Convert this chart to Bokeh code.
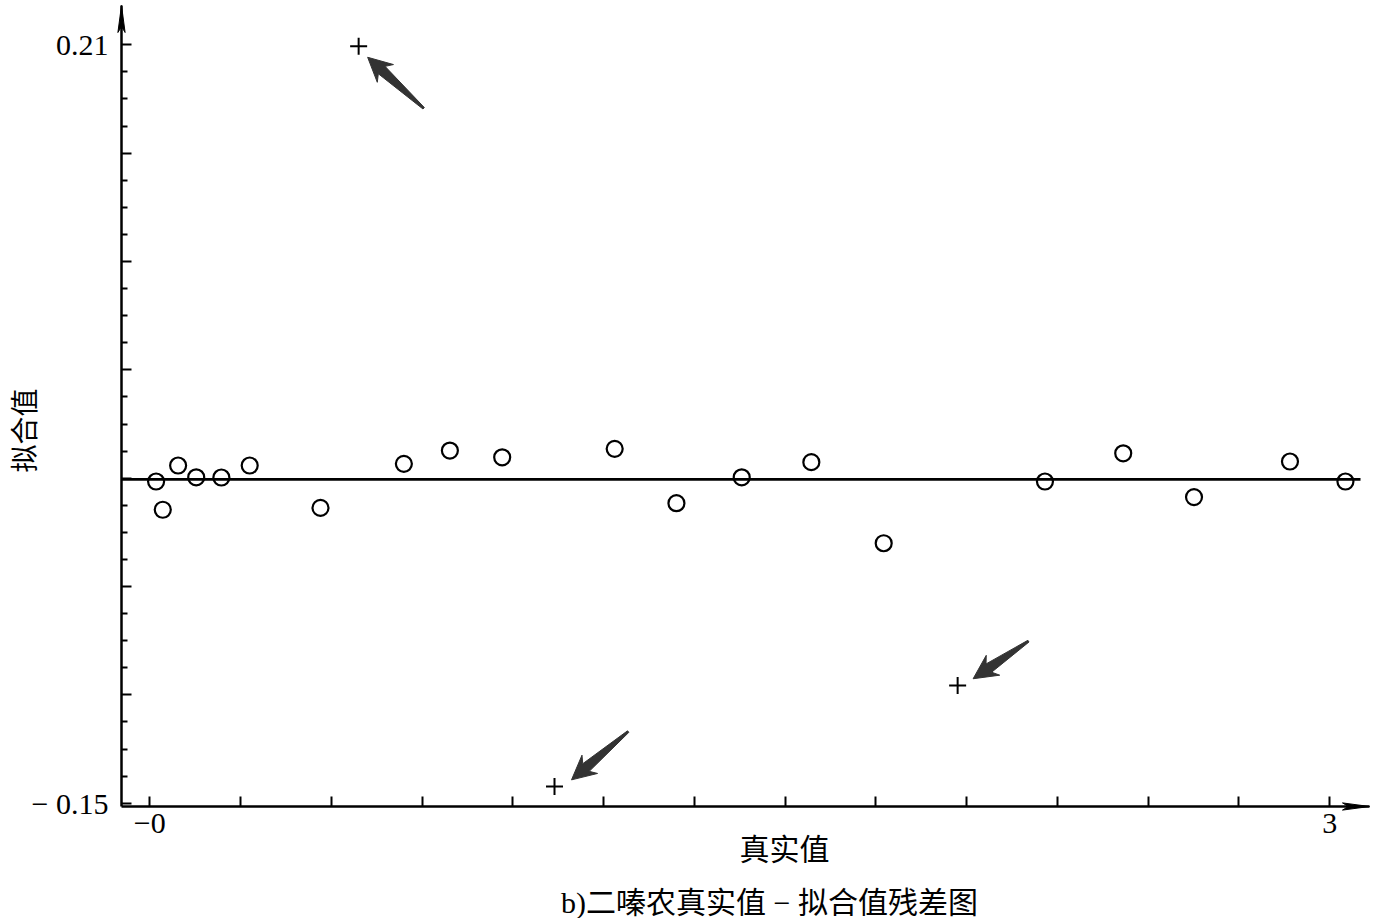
import math
from bokeh.plotting import figure
from bokeh.models import Range1d, FixedTicker, Label, LinearAxis
from bokeh.embed import file_html
from bokeh.resources import INLINE

# ---------------- data ----------------
x_true = [0.016, 0.033, 0.072, 0.118, 0.182, 0.254, 0.434, 0.646, 0.763, 0.896,
          1.182, 1.339, 1.505, 1.682, 1.866, 2.276, 2.475, 2.655, 2.899, 3.040]
residual = [0.0027, -0.0107, 0.0103, 0.0047, 0.0046, 0.0103, -0.0098, 0.0111, 0.0174, 0.0142,
            0.0182, -0.0076, 0.0047, 0.0119, -0.0266, 0.0027, 0.0161, -0.0047, 0.0122, 0.0027]
outlier_x = [0.531, 2.054, 1.029]
outlier_y = [0.2093, -0.0941, -0.1421]
zero_line_y = 0.0037

x_ticks = [0.0, 0.230769, 0.461538, 0.692308, 0.923077, 1.153846, 1.384615,
           1.615385, 1.846154, 2.076923, 2.307692, 2.538462, 2.769231, 3.0]
x_tick_labels = {0.0: "−0", 3.0: "3"}
y_major_ticks = [0.21, 0.158571, 0.107143, 0.055714, 0.004286, -0.047143, -0.098571, -0.15]
y_minor_ticks = [0.197143, 0.184286, 0.171429, 0.145714, 0.132857, 0.12,
                 0.094286, 0.081429, 0.068571, 0.042857, 0.03, 0.017143,
                 -0.008571, -0.021429, -0.034286, -0.06, -0.072857, -0.085714,
                 -0.111429, -0.124286, -0.137143]
y_tick_labels = {0.21: "0.21", -0.15: "− 0.15"}

x_title = "真实值"
y_title = "拟合值"
caption = "b)二嗪农真实值 − 拟合值残差图"

# ---------------- layout (frame fills the whole canvas) ----------------
W, H = 1370, 918
PX_PER_X = 393.3      # pixels per x unit
PX_PER_Y = 2106.7     # pixels per y unit
X0_PX, Y021_PX = 149.3, 44.3   # pixel of x=0 and of y=0.21
x_start = (0 - X0_PX) / PX_PER_X
x_end = (W - X0_PX) / PX_PER_X
y_end = 0.21 + Y021_PX / PX_PER_Y
y_start = 0.21 - (H - Y021_PX) / PX_PER_Y
sx = W / (x_end - x_start)
sy = H / (y_end - y_start)


def px_x(px):
    return x_start + px / sx


def px_y(py):
    return y_end - py / sy


def page_x(x):
    return (x - x_start) * sx


def page_y(y):
    return (y_end - y) * sy


yaxis_x = px_x(121)
xaxis_y = px_y(806)
x_tip = px_x(1369)
y_tip = px_y(5)

p = figure(width=W, height=H, x_range=Range1d(x_start, x_end), y_range=Range1d(y_start, y_end),
           output_backend="svg", toolbar_location=None, x_axis_type=None, y_axis_type=None,
           min_border=0, min_border_left=0, min_border_right=0, min_border_top=0,
           min_border_bottom=0)
p.outline_line_color = None
p.background_fill_color = "white"
p.border_fill_color = "white"

serif = "Liberation Serif"
cjk = "Noto Sans CJK SC"

xaxis = LinearAxis(ticker=FixedTicker(ticks=x_ticks), fixed_location=xaxis_y, bounds=(yaxis_x, x_tip))
xaxis.major_label_overrides = {t: x_tick_labels.get(t, "") for t in x_ticks}
yaxis = LinearAxis(ticker=FixedTicker(ticks=y_major_ticks, minor_ticks=y_minor_ticks),
                   fixed_location=yaxis_x, bounds=(xaxis_y, y_tip))
yaxis.major_label_overrides = {t: y_tick_labels.get(t, "") for t in y_major_ticks}
for ax in (xaxis, yaxis):
    ax.axis_line_width = 2.5
    ax.axis_line_color = "black"
    ax.major_tick_in = 10
    ax.major_tick_out = 0
    ax.major_tick_line_width = 2
    ax.major_tick_line_color = "black"
    ax.minor_tick_in = 6
    ax.minor_tick_out = 0
    ax.minor_tick_line_width = 2
    ax.minor_tick_line_color = "black"
    ax.major_label_text_font = serif
    ax.major_label_text_font_size = "30px"
    ax.major_label_text_color = "black"
xaxis.major_label_standoff = 7
yaxis.major_label_standoff = 13
p.add_layout(xaxis, "below")
p.add_layout(yaxis, "left")

# zero reference line
p.line([yaxis_x, px_x(1360)], [zero_line_y, zero_line_y], line_color="black", line_width=2.6)

# points
p.scatter(x_true, residual, marker="circle", size=16, line_color="black", line_width=2.2,
          fill_color=None)
p.scatter(outlier_x, outlier_y, marker="cross", size=17, line_color="black", line_width=2)


def poly(tip, direction, local_pts):
    tx, ty = tip
    ux, uy = direction
    n = math.hypot(ux, uy)
    ux, uy = ux / n, uy / n
    vx, vy = -uy, ux
    xs, ys = [], []
    for u, v in local_pts:
        xs.append(px_x(tx + u * ux + v * vx))
        ys.append(px_y(ty + u * uy + v * vy))
    return xs, ys


# pointer arrows next to the outliers (pixel offsets, y down)
tip_off = [(9, 11), (15.5, -6.7), (17, -6.7)]
tail_off = [(65, 62), (70.8, -44.3), (73.7, -55)]
axs, ays = [], []
for ox, oy, to, ta in zip(outlier_x, outlier_y, tip_off, tail_off):
    bx, by = page_x(ox), page_y(oy)
    tip = (bx + to[0], by + to[1])
    tail = (bx + ta[0], by + ta[1])
    L = math.hypot(tail[0] - tip[0], tail[1] - tip[1])
    shape = [(0, 0), (24, 12), (19, 5), (L, 1.0), (L, -1.0), (19, -5), (24, -12)]
    xs, ys = poly(tip, (tail[0] - tip[0], tail[1] - tip[1]), shape)
    axs.append(xs)
    ays.append(ys)
p.patches(axs, ays, fill_color="#333333", line_color="#333333", line_width=1)

# axis arrowheads
head = [(0, 0), (27, 3.6), (21, 0), (27, -3.6)]
hx1, hy1 = poly((page_x(x_tip), page_y(xaxis_y)), (-1, 0), head)
hx2, hy2 = poly((page_x(yaxis_x), page_y(y_tip)), (0, 1), head)
p.patches([hx1, hx2], [hy1, hy2], fill_color="black", line_color="black", line_width=1)

# titles
p.add_layout(Label(x=px_x(22), y=px_y(430), text=y_title, angle=math.pi / 2,
                   text_align="center", text_baseline="middle", text_font=cjk,
                   text_font_size="28px", text_color="black"))
p.add_layout(Label(x=px_x(784), y=px_y(846), text=x_title, text_align="center",
                   text_baseline="middle", text_font=cjk, text_font_size="30px",
                   text_color="black"))
p.add_layout(Label(x=px_x(769), y=px_y(902), text=caption, text_align="center",
                   text_baseline="middle", text_font="'Liberation Serif', 'Noto Sans CJK SC'",
                   text_font_size="30px", text_color="black"))

open("out.html", "w").write(file_html(p, INLINE))
